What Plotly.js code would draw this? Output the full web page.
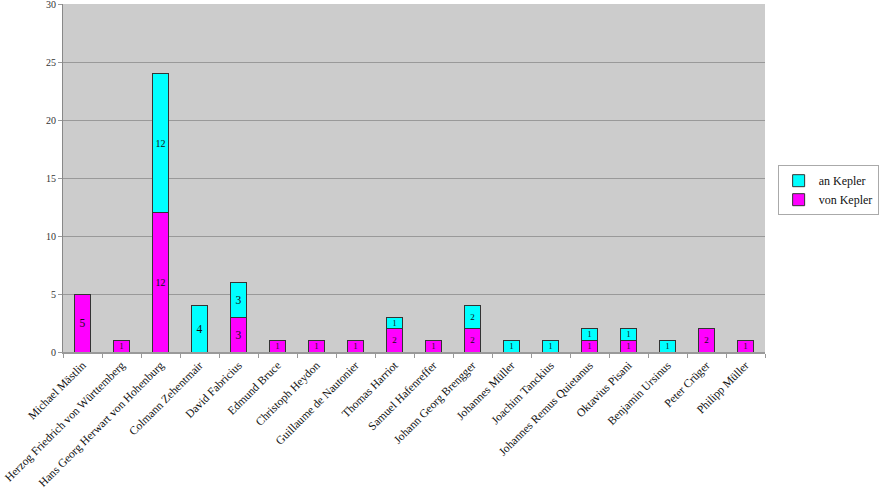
<!DOCTYPE html>
<html>
<head>
<meta charset="utf-8">
<script src="https://cdn.plot.ly/plotly-3.0.1.min.js"></script>
<style>html,body{margin:0;padding:0;background:#fff;}#chart{width:883px;height:492px;}</style>
</head>
<body>
<div id="chart"></div>
<script>
const categories = ["Michael Mästlin","Herzog Friedrich von Württemberg","Hans Georg Herwart von Hohenburg","Colmann Zehentmair","David Fabricius","Edmund Bruce","Christoph Heydon","Guillaume de Nautonier","Thomas Harriot","Samuel Hafenreffer","Johann Georg Brengger","Johannes Müller","Joachim Tanckius","Johannes Remus Quietanus","Oktavius Pisani","Benjamin Ursinus","Peter Crüger","Philipp Müller"];
const vonKepler = [5,1,12,0,3,1,1,1,2,1,2,0,0,1,1,0,2,1];
const anKepler  = [0,0,12,4,3,0,0,0,1,0,2,1,1,1,1,1,0,0];

const toY = a => a.map(v => v === 0 ? null : v);
const toT = a => a.map(v => v === 0 ? "" : String(v));
const toS = a => a.map(v => v >= 12 ? 10 : v >= 3 ? 11.5 : v === 2 ? 9 : 8);

const common = {
  type: "bar",
  x: categories,
  textposition: "inside",
  insidetextanchor: "middle",
  constraintext: "none",
  textangle: 0,
  hoverinfo: "x+y+name"
};

const traces = [
  Object.assign({}, common, {name: "von Kepler", y: toY(vonKepler), text: toT(vonKepler),
    textfont: {family: "Liberation Serif, serif", size: toS(vonKepler), color: "#111"},
    marker: {color: "#ff00ff", line: {color: "#333", width: 1}}}),
  Object.assign({}, common, {name: "an Kepler", y: toY(anKepler), text: toT(anKepler),
    textfont: {family: "Liberation Serif, serif", size: toS(anKepler), color: "#111"},
    marker: {color: "#00ffff", line: {color: "#333", width: 1}}})
];

const layout = {
  width: 883, height: 492,
  margin: {l: 63, r: 113, t: 4, b: 140},
  barmode: "stack",
  bargap: 0.58,
  paper_bgcolor: "#ffffff",
  plot_bgcolor: "#cccccc",
  font: {family: "Liberation Serif, serif", size: 10, color: "#222"},
  xaxis: {
    type: "category",
    tickangle: -45,
    ticks: "outside", tickson: "boundaries", ticklen: 4, tickcolor: "#999",
    showline: true, linecolor: "#999", linewidth: 2,
    tickfont: {family: "Liberation Serif, serif", size: 11.6, color: "#111"},
    showgrid: false
  },
  yaxis: {
    range: [0, 30], tickvals: [0,5,10,15,20,25,30],
    ticks: "outside", ticklen: 4, tickcolor: "#999",
    ticklabeloverflow: "allow",
    showline: true, linecolor: "#888", linewidth: 1,
    gridcolor: "#999", gridwidth: 1,
    zeroline: false,
    tickfont: {family: "Liberation Serif, serif", size: 10, color: "#333"}
  },
  showlegend: true,
  legend: {
    x: 1.018, xanchor: "left", y: 0.465, yanchor: "middle",
    bgcolor: "#ffffff", bordercolor: "#aaa", borderwidth: 1,
    font: {family: "Liberation Serif, serif", size: 12, color: "#111"},
    traceorder: "reversed",
    itemwidth: 30
  }
};

Plotly.newPlot("chart", traces, layout, {displayModeBar: false, staticPlot: true});
</script>
</body>
</html>
